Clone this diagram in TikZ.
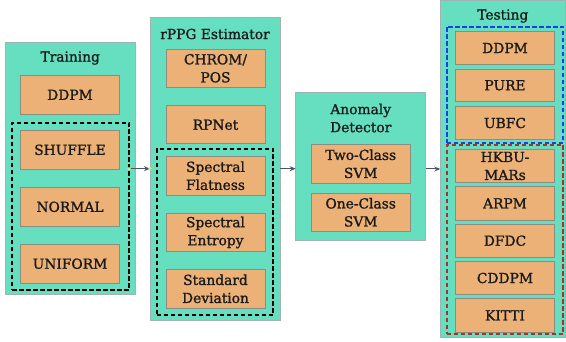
\documentclass[tikz,border=0pt]{standalone}
\usepackage{fontspec}
\setmainfont{DejaVu Serif}
\newfontfamily\boxfont{DejaVu Serif}[FakeBold=1.2]
\usetikzlibrary{arrows.meta}
\definecolor{teal0}{HTML}{66DFC1}
\definecolor{tealb}{HTML}{9FB3B3}
\definecolor{orng}{HTML}{EBB177}
\definecolor{orngb}{HTML}{8C8C80}
\definecolor{arrc}{HTML}{4A5568}
\definecolor{dotc}{HTML}{D3E87A}
\definecolor{bluedash}{HTML}{1C3FE8}
\definecolor{reddash}{HTML}{A83228}
\definecolor{txt}{HTML}{1A1A1A}
\begin{document}
\begin{tikzpicture}[x=1pt,y=-1pt,
  every node/.style={inner sep=0pt, outer sep=0pt, text=txt, font=\boxfont\fontsize{13.8}{18}\selectfont},
  cont/.style={draw=tealb, fill=teal0, line width=0.8pt, rectangle},
  obox/.style={draw=orngb, fill=orng, line width=0.7pt, rectangle, align=center, minimum width=99pt},
  grp/.style={draw=black, dash pattern=on 4.5pt off 2.5pt, line width=1.9pt, rectangle},
  arr/.style={draw=arrc, line width=1pt, -{Stealth[length=6pt,width=5pt]}},
  title/.style={align=center}
]
\useasboundingbox (0,0) rectangle (566,342);
% containers
\node[cont, minimum width=129.7pt, minimum height=251.3pt] (train) at (70.2,168.3) {};
\node[cont, minimum width=130pt, minimum height=302.7pt] (rppg) at (215,168.7) {};
\node[cont, minimum width=130pt, minimum height=147.7pt] (anom) at (360.7,166.2) {};
\node[cont, minimum width=125pt, minimum height=336.8pt] (test) at (502.8,169) {};
% titles
\node[title] (ttrain) at (70.2,58) {Training};
\node[title] (trppg) at (215,34) {rPPG Estimator};
\node[title] (tanom) at (360.7,118) {Anomaly\\Detector};
\node[title] (ttest) at (502.8,16) {Testing};
% groups
\node[grp, minimum width=116.7pt, minimum height=167.3pt] (gtrain) at (70.7,206.3) {};
\node[grp, minimum width=116.7pt, minimum height=166pt] (grppg) at (215,232) {};
\node[grp, draw=bluedash, minimum width=116.6pt, minimum height=116pt] (gblue) at (505,84.7) {};
\node[grp, draw=reddash, minimum width=116.6pt, minimum height=189.3pt] (gred) at (505,239.7) {};
% training items
\node[obox, minimum height=38.3pt] (t1) at (70,94.8) {DDPM};
\node[obox, minimum height=38.5pt] (t2) at (70,149.8) {SHUFFLE};
\node[obox, minimum height=38.5pt] (t3) at (70,206.8) {NORMAL};
\node[obox, minimum height=38.5pt] (t4) at (70,263.7) {UNIFORM};
% rppg items
\node[obox, minimum height=38pt] (r1) at (215.5,68.3) {CHROM/\\POS};
\node[obox, minimum height=38pt] (r2) at (215.5,124.8) {RPNet};
\node[obox, minimum height=38.5pt] (r3) at (215.5,175.7) {Spectral\\Flatness};
\node[obox, minimum height=38.5pt] (r4) at (215.5,232.5) {Spectral\\Entropy};
\node[obox, minimum height=38.5pt] (r5) at (215.5,288.8) {Standard\\Deviation};
% anomaly items
\node[obox, minimum height=39pt] (a1) at (360.7,163.8) {Two-Class\\SVM};
\node[obox, minimum height=38.7pt] (a2) at (360.7,212.3) {One-Class\\SVM};
% testing items
\node[obox, minimum width=98.6pt, minimum height=32.7pt] (s1) at (505,48) {DDPM};
\node[obox, minimum width=98.6pt, minimum height=32.7pt] (s2) at (505,85.3) {PURE};
\node[obox, minimum width=98.6pt, minimum height=32.7pt] (s3) at (505,123) {UBFC};
\node[obox, minimum width=98.6pt, minimum height=33.4pt] (s4) at (505,166) {HKBU-\\MARs};
\node[obox, minimum width=98.6pt, minimum height=33.4pt] (s5) at (505,203.3) {ARPM};
\node[obox, minimum width=98.6pt, minimum height=33.4pt] (s6) at (505,240.7) {DFDC};
\node[obox, minimum width=98.6pt, minimum height=33.4pt] (s7) at (505,278) {CDDPM};
\node[obox, minimum width=98.6pt, minimum height=33.4pt] (s8) at (505,315.3) {KITTI};
% connectors
\coordinate (c1) at (gtrain.east |- rppg.west);
\draw[arr] (c1) -- (rppg.west);
\fill[dotc] (c1) circle (1.8pt);
\fill[dotc] (rppg.west) circle (1.8pt);
\draw[arr] (rppg.east) -- (rppg.east -| anom.west);
\draw[arr] (anom.east |- test.west) -- (test.west);
\end{tikzpicture}
\end{document}
